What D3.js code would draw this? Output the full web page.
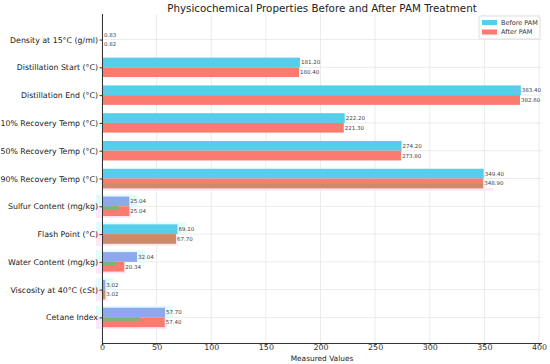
<!DOCTYPE html>
<html><head><meta charset="utf-8">
<script src="https://cdn.jsdelivr.net/npm/d3@7"></script>
<style>body{margin:0;background:#fff}svg{display:block}text{font-family:"DejaVu Sans",sans-serif}</style>
</head><body><svg id="c" width="550" height="364"></svg>
<script>
const categories = ["Density at 15°C (g/ml)","Distillation Start (°C)","Distillation End (°C)","10% Recovery Temp (°C)","50% Recovery Temp (°C)","90% Recovery Temp (°C)","Sulfur Content (mg/kg)","Flash Point (°C)","Water Content (mg/kg)","Viscosity at 40°C (cSt)","Cetane Index"];
const beforePAM = [0.83,181.2,383.4,222.2,274.2,349.4,25.04,69.1,32.04,3.02,57.7];
const afterPAM  = [0.82,180.4,382.6,221.3,273.8,348.9,25.04,67.7,20.34,3.02,57.4];
const xTicks = [0,50,100,150,200,250,300,350,400];
const seriesNames = ["Before PAM","After PAM"];

// styling
const cBefore = "#56cdea", cAfter = "#fb7b6f";
const beforeColors = [cBefore,cBefore,cBefore,cBefore,cBefore,cBefore,"#8ea8ee",cBefore,"#8ea8ee","#8ea8ee","#8ea8ee"];
const afterColors  = [cAfter,cAfter,cAfter,cAfter,cAfter,cAfter,cAfter,"#cc8a6a",cAfter,"#b99a5e",cAfter];
const greenStrip = [false,false,false,false,false,false,true,false,true,false,true];
const brownStrip = [false,false,false,false,false,true,false,false,false,false,false];

const svg = d3.select("#c");
const m = {l:102, r:542, t:14, b:343};
const x = d3.scaleLinear().domain([0,400]).range([m.l, 539]);
const y = d3.scalePoint().domain(categories).range([m.t, m.b]).padding(0.92);
const step = y.step();
const bh = step*0.35;

// grid
svg.append("g").selectAll("line.v").data(xTicks).join("line")
  .attr("x1",d=>x(d)).attr("x2",d=>x(d)).attr("y1",m.t).attr("y2",m.b)
  .attr("stroke","#e6e6e6").attr("stroke-width",0.8);
svg.append("g").selectAll("line.h").data(categories).join("line")
  .attr("x1",m.l).attr("x2",m.r).attr("y1",d=>y(d)).attr("y2",d=>y(d))
  .attr("stroke","#e6e6e6").attr("stroke-width",0.8);

// halos for lower bars
const lower = categories.map((c,i)=>i).filter(i=>i>=6);
const gH = svg.append("g");
lower.forEach(i=>{
  const c = categories[i];
  gH.append("rect").attr("x",m.l-6).attr("y",y(c)-bh-2).attr("width",x(beforePAM[i])-m.l+14).attr("height",bh+2).attr("fill","#e2fbfc");
  gH.append("rect").attr("x",m.l-6).attr("y",y(c)).attr("width",x(afterPAM[i])-m.l+8).attr("height",bh+2).attr("fill","#fde6f5");
});
gH.append("rect").attr("x",m.l).attr("y",y(categories[5])+bh).attr("width",x(afterPAM[5])-m.l+10).attr("height",2.5).attr("fill","#fde6f5");

// bars
const g = svg.append("g");
g.selectAll("rect.b").data(categories).join("rect")
  .attr("x",m.l).attr("y",d=>y(d)-bh).attr("width",(d,i)=>x(beforePAM[i])-m.l).attr("height",bh)
  .attr("fill",(d,i)=>beforeColors[i]);
g.selectAll("rect.a").data(categories).join("rect")
  .attr("x",m.l).attr("y",d=>y(d)).attr("width",(d,i)=>x(afterPAM[i])-m.l).attr("height",bh)
  .attr("fill",(d,i)=>afterColors[i]);
g.selectAll("rect.g").data(categories.filter((d,i)=>greenStrip[i])).join("rect")
  .attr("x",m.l).attr("y",d=>y(d)).attr("width",d=>(x(afterPAM[categories.indexOf(d)])-m.l)*0.6).attr("height",bh*0.35)
  .attr("fill","#72b878");
g.selectAll("rect.br").data(categories.filter((d,i)=>brownStrip[i])).join("rect")
  .attr("x",m.l).attr("y",d=>y(d)+bh*0.55).attr("width",d=>x(afterPAM[categories.indexOf(d)])-m.l).attr("height",bh*0.45)
  .attr("fill","#cc8a6a");

// value labels
const fmt = d3.format(".2f");
g.selectAll("text.vb").data(categories).join("text")
  .attr("x",(d,i)=>x(beforePAM[i])+1).attr("y",d=>y(d)-bh/2).attr("dy","0.35em")
  .attr("font-size",5.5).attr("fill","#444").text((d,i)=>fmt(beforePAM[i]));
g.selectAll("text.va").data(categories).join("text")
  .attr("x",(d,i)=>x(afterPAM[i])+1).attr("y",d=>y(d)+bh/2).attr("dy","0.35em")
  .attr("font-size",5.5).attr("fill","#444").text((d,i)=>fmt(afterPAM[i]));

// axes
const xa = svg.append("g").attr("transform",`translate(0,${m.b})`)
  .call(d3.axisBottom(x).tickValues(xTicks).tickSize(2.5).tickPadding(-1));
xa.select(".domain").attr("d",`M${m.l},0.5H${m.r}`).attr("stroke","#333").attr("stroke-width",1);
xa.selectAll(".tick line").attr("stroke","#333");
xa.selectAll("text").attr("font-size",7.9).attr("fill","#333").attr("font-family","DejaVu Sans");

const ya = svg.append("g").attr("transform",`translate(${m.l},0)`)
  .call(d3.axisLeft(y).tickSize(2.5).tickPadding(1.5));
ya.select(".domain").attr("d",`M0.5,${m.t}V${m.b}`).attr("stroke","#333").attr("stroke-width",1);
ya.selectAll(".tick line").attr("stroke","#333");
const yt = ya.selectAll("text").attr("font-size",10).attr("fill","#222").attr("font-family","DejaVu Sans");
const wDen = yt.filter(d=>d===categories[0]).node().getComputedTextLength();
yt.attr("font-size", 10*88/wDen);

svg.append("text").attr("x",322).attr("y",361).attr("text-anchor","middle")
  .attr("font-size",7.4).attr("fill","#222").text("Measured Values");
const tt = svg.append("text").attr("x",322).attr("y",12).attr("text-anchor","middle")
  .attr("font-size",10).attr("fill","#222").text("Physicochemical Properties Before and After PAM Treatment");
tt.attr("font-size", 10*310/tt.node().getComputedTextLength());

// legend
const lg = svg.append("g").attr("transform","translate(479,16)");
lg.append("rect").attr("width",61).attr("height",23).attr("fill","#fff").attr("stroke","#ddd").attr("rx",2);
seriesNames.forEach((s,i)=>{
  lg.append("rect").attr("x",3).attr("y",4+i*9.5).attr("width",15).attr("height",5).attr("fill",i?cAfter:cBefore);
  lg.append("text").attr("x",22).attr("y",6.5+i*9.5).attr("dy","0.35em").attr("font-size",6.5).attr("fill","#333").text(s);
});
</script></body></html>
